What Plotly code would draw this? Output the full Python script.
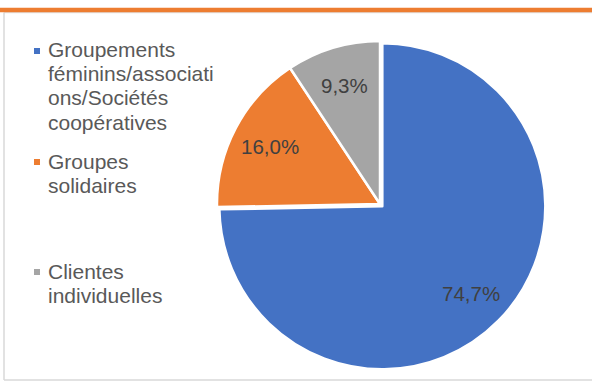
import math
import plotly.graph_objects as go

W, H = 592, 383

categories = ["Groupements féminins/associations/Sociétés coopératives",
              "Groupes solidaires",
              "Clientes individuelles"]
values = [74.7, 16.0, 9.3]
colors = ["#4472C4", "#ED7D31", "#A5A5A5"]
legend_lines = [["Groupements", "féminins/associati", "ons/Sociétés", "coopératives"],
                ["Groupes", "solidaires"],
                ["Clientes", "individuelles"]]
pulls = [0.02, 0, 0]

text = [f"{v:.1f}".replace(".", ",") + "%" for v in values]


def px_x(x):
    return x / W


def px_y(y):
    return 1 - y / H


# pie geometry (pixels, from top-left)
CX, CY, R = 380, 204, 163
half = R * (1 + max(pulls))

fig = go.Figure(go.Pie(
    labels=categories,
    values=values,
    textinfo="none",
    marker=dict(colors=colors, line=dict(color="white", width=2.5)),
    sort=False,
    direction="clockwise",
    rotation=0,
    pull=pulls,
    domain=dict(x=[px_x(CX - half), px_x(CX + half)], y=[px_y(CY + half), px_y(CY - half)]),
    showlegend=False,
    hoverinfo="label+percent",
))

shapes = [
    dict(type="line", xref="paper", yref="paper", x0=px_x(4), x1=px_x(4), y0=px_y(12.5), y1=px_y(380),
         line=dict(color="#D9D9D9", width=1.5)),
    dict(type="line", xref="paper", yref="paper", x0=px_x(4), x1=1.0, y0=px_y(380), y1=px_y(380),
         line=dict(color="#D9D9D9", width=1.5)),
    dict(type="line", xref="paper", yref="paper", x0=px_x(4), x1=1.0, y0=px_y(12.7), y1=px_y(12.7),
         line=dict(color="#D9D9D9", width=1)),
    dict(type="rect", xref="paper", yref="paper", x0=0, x1=1, y0=px_y(12.2), y1=px_y(7.8),
         fillcolor="#ED7D31", line=dict(width=0)),
]

annotations = []

# slice labels positioned from the data (mid-angle of each slice)
total = sum(values)
cum = 0.0
label_frac = 0.76
for v, t, p in zip(values, text, pulls):
    mid = (cum + v / 2) / total * 2 * math.pi
    cum += v
    rr = R * (label_frac + p)
    lx = CX + rr * math.sin(mid)
    ly = CY - rr * math.cos(mid)
    annotations.append(dict(text=t, xref="paper", yref="paper", x=px_x(lx), y=px_y(ly),
                            xanchor="center", yanchor="middle", showarrow=False,
                            font=dict(family="Liberation Sans, Arial", size=20.5, color="#404040")))

# legend
first_baselines = [57, 168, 278]
line_gap = 24
for lines, base, col in zip(legend_lines, first_baselines, colors):
    shapes.append(dict(type="rect", xref="paper", yref="paper",
                       x0=px_x(34), x1=px_x(40), y0=px_y(base - 3), y1=px_y(base - 9),
                       fillcolor=col, line=dict(width=0)))
    for i, ln in enumerate(lines):
        yb = base + i * line_gap
        annotations.append(dict(text=ln, xref="paper", yref="paper",
                                x=px_x(45.5), y=px_y(yb - 7), xanchor="left", yanchor="middle",
                                showarrow=False,
                                font=dict(family="Liberation Sans, Arial", size=21, color="#595959")))

fig.update_layout(
    width=W, height=H,
    margin=dict(l=0, r=0, t=0, b=0),
    paper_bgcolor="white",
    plot_bgcolor="white",
    shapes=shapes,
    annotations=annotations,
)

fig.write_html("out.html", config={"displayModeBar": False},
               post_script="document.body.style.margin='0';document.body.style.overflow='hidden';")
